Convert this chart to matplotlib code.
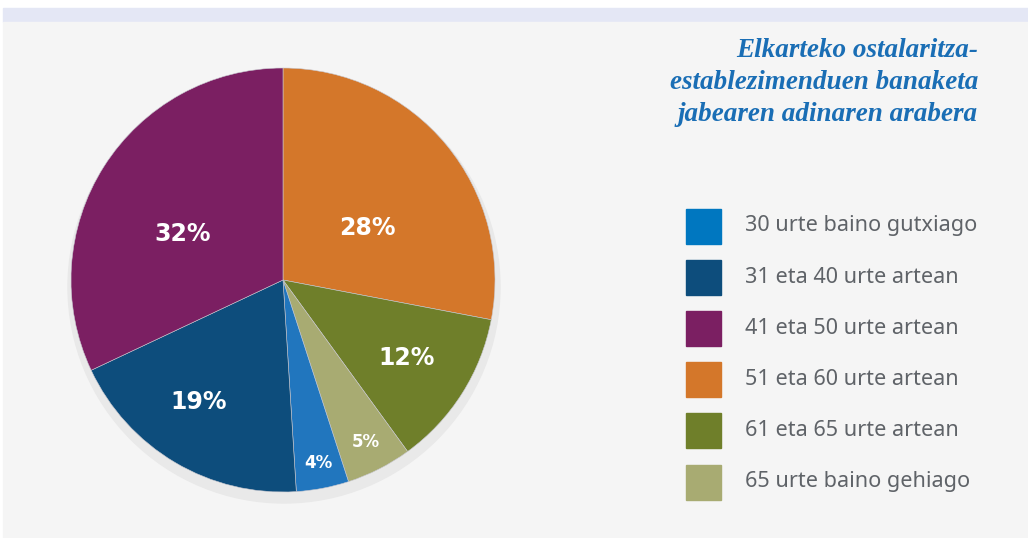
import numpy as np
import matplotlib.pyplot as plt
from matplotlib.patches import Rectangle, Circle

# data
categories = ['30 urte baino gutxiago', '31 eta 40 urte artean', '41 eta 50 urte artean',
              '51 eta 60 urte artean', '61 eta 65 urte artean', '65 urte baino gehiago']
legend_colors = ['#0077c0', '#0d4d7c', '#7b1f62', '#d4772a', '#6f7f2a', '#a8ab72']
shares = [4, 19, 32, 28, 12, 5]

# pie goes clockwise from the top starting with 51-60
pie_order = [3, 4, 5, 0, 1, 2]
pie_colors = ['#d4772a', '#6f7f2a', '#a8ab72', '#2176be', '#0d4d7c', '#7b1f62']
label_r = [0.47, 0.69, 0.86, 0.88, 0.70, 0.52]
label_shift = [-8, 0, 0, 0, -4, 8]
label_size = [17, 17, 12, 12, 17, 17]

title = 'Elkarteko ostalaritza-\nestablezimenduen banaketa\njabearen adinaren arabera'

W, H = 1028, 538
fig = plt.figure(figsize=(W / 100, H / 100), dpi=100)
fig.patch.set_facecolor('white')
ax = fig.add_axes([0, 0, 1, 1])

ax.add_patch(Rectangle((3, H - 22), W, 14, color='#e4e7f5', zorder=0))
ax.add_patch(Rectangle((3, 0), W, H - 22, color='#f5f5f5', zorder=0))

cx, cy, r = 283, H - 280, 212
ax.add_patch(Circle((cx + 1, cy - 7), r + 4, color='#e9e9e9', zorder=1))

vals = [shares[i] for i in pie_order]
wedges, _ = ax.pie(vals, colors=pie_colors, startangle=90, counterclock=False,
                   center=(cx, cy), radius=r, frame=True,
                   wedgeprops=dict(linewidth=0.4, edgecolor='#c8c8d0'))
for w in wedges:
    w.set_zorder(2)

for k, w in enumerate(wedges):
    ang = np.deg2rad((w.theta1 + w.theta2) / 2 + label_shift[k])
    x = cx + label_r[k] * r * np.cos(ang)
    y = cy + label_r[k] * r * np.sin(ang)
    ax.text(x, y, f'{vals[k]}%', color='white', fontsize=label_size[k], fontweight='bold',
            family='DejaVu Sans', ha='center', va='center', zorder=3)

ax.text(978, H - 38, title, color='#1a6eb5', fontsize=19.5, fontweight='bold', style='italic',
        family='Liberation Serif', ha='right', va='top', linespacing=1.38, zorder=3)

for i, cat in enumerate(categories):
    y = H - (226 + i * 51.2)
    ax.add_patch(Rectangle((686, y - 17.5), 35, 35, color=legend_colors[i], zorder=3))
    ax.text(745, y, cat, color='#5f6368', fontsize=15.6, family='Noto Sans',
            ha='left', va='center', zorder=3)

ax.set_xlim(0, W)
ax.set_ylim(0, H)
ax.set_aspect('equal')
ax.axis('off')

fig.savefig('out.png', dpi=100, facecolor=fig.get_facecolor())
